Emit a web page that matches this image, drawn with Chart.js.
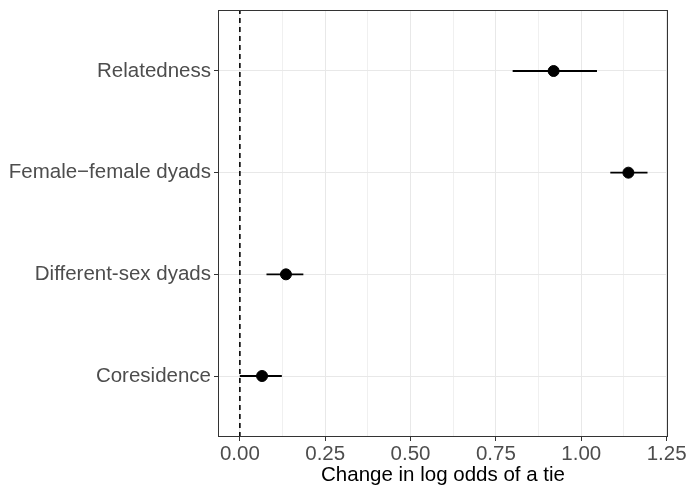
<!DOCTYPE html>
<html>
<head>
<meta charset="utf-8">
<script src="https://cdn.jsdelivr.net/npm/chart.js@4"></script>
<style>
  html, body { margin: 0; padding: 0; background: #fff; }
</style>
</head>
<body>
<canvas id="chart" width="689" height="486"></canvas>
<script>
// Categories from bottom to top of the plot
const categories = ['Coresidence', 'Different-sex dyads', 'Female\u2212female dyads', 'Relatedness'];
const estimates = [0.065, 0.135, 1.138, 0.919];
const lower = [0.0, 0.078, 1.085, 0.799];
const upper = [0.123, 0.186, 1.194, 1.046];
const xTicks = [0, 0.125, 0.25, 0.375, 0.5, 0.625, 0.75, 0.875, 1.0, 1.125, 1.25];
const refLine = 0;

const FONT = '"Liberation Sans", Arial, sans-serif';
const FONT_SIZE = 20.5;

// error bar segments, one dataset each
const errorBars = categories.map((c, i) => ({
  type: 'line',
  data: [{ x: lower[i], y: i + 1 }, { x: upper[i], y: i + 1 }],
  borderColor: '#000',
  borderWidth: 1.8,
  pointRadius: 0,
  order: 2
}));

// panel border on all four sides
const panelBorder = {
  id: 'panelBorder',
  afterDatasetsDraw(chart) {
    const { ctx, chartArea: a } = chart;
    ctx.save();
    ctx.strokeStyle = '#333333';
    ctx.lineWidth = 1;
    ctx.strokeRect(a.left + 0.5, a.top + 0.5, a.right - a.left - 1, a.bottom - a.top - 1);
    ctx.restore();
  }
};

new Chart(document.getElementById('chart'), {
  type: 'scatter',
  data: {
    datasets: [
      {
        data: estimates.map((v, i) => ({ x: v, y: i + 1 })),
        backgroundColor: '#000',
        borderColor: '#000',
        pointRadius: 5.5,
        order: 0
      },
      ...errorBars,
      {
        type: 'line',
        data: [{ x: refLine, y: 0.4 }, { x: refLine, y: 4.6 }],
        borderColor: '#111',
        borderWidth: 1.7,
        borderDash: [5, 4],
        pointRadius: 0,
        order: 3
      }
    ]
  },
  options: {
    responsive: false,
    animation: false,
    layout: { padding: { top: 10, right: 21, left: 0, bottom: 0 } },
    plugins: { legend: { display: false }, tooltip: { enabled: false } },
    scales: {
      x: {
        type: 'linear',
        min: -0.064,
        max: 1.254,
        afterBuildTicks(scale) { scale.ticks = xTicks.map(v => ({ value: v })); },
        afterFit(scale) {
          scale.height = 49;
          scale.paddingLeft = 0;
          scale.paddingRight = 0;
        },
        grid: {
          color: ctx => ctx.index % 2 === 0 ? '#e8e8e8' : '#f0f0f0',
          lineWidth: 1,
          tickLength: 4,
          tickColor: ctx => ctx.index % 2 === 0 ? '#333333' : 'rgba(0,0,0,0)'
        },
        border: { display: false },
        ticks: {
          autoSkip: false,
          maxRotation: 0,
          padding: 1,
          color: '#4d4d4d',
          font: { family: FONT, size: FONT_SIZE },
          callback: (v, i) => i % 2 === 0 ? v.toFixed(2) : ''
        },
        title: {
          display: true,
          text: 'Change in log odds of a tie',
          color: '#000',
          font: { family: FONT, size: FONT_SIZE, lineHeight: 0.85 },
          padding: { top: 0, bottom: 2 }
        }
      },
      y: {
        type: 'linear',
        min: 0.4,
        max: 4.6,
        afterBuildTicks(scale) { scale.ticks = categories.map((c, i) => ({ value: i + 1 })); },
        afterFit(scale) {
          scale.width = 218;
          scale.paddingTop = 0;
          scale.paddingBottom = 0;
        },
        grid: {
          color: '#e8e8e8',
          lineWidth: 1,
          tickLength: 4,
          tickColor: '#333333'
        },
        border: { display: false },
        ticks: {
          autoSkip: false,
          padding: 3,
          color: '#4d4d4d',
          font: { family: FONT, size: FONT_SIZE },
          callback: v => categories[Math.round(v) - 1]
        }
      }
    }
  },
  plugins: [panelBorder]
});
</script>
</body>
</html>
